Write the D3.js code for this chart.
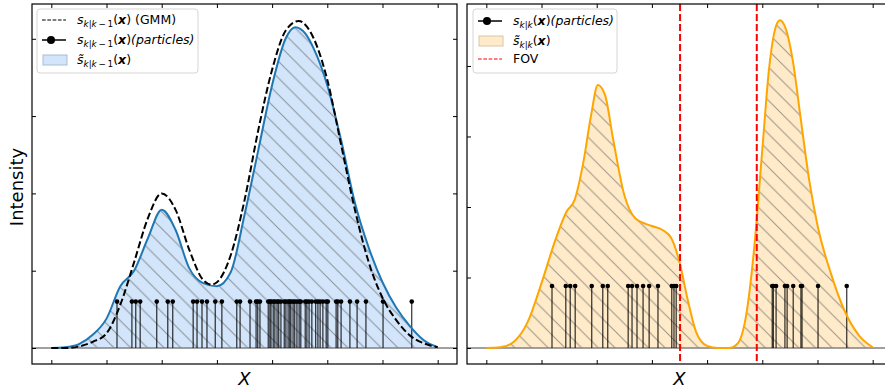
<!DOCTYPE html>
<html>
<head>
<meta charset="utf-8">
<script src="https://cdn.jsdelivr.net/npm/d3@7"></script>
<style>
  body { margin: 0; background: #fff; }
  svg { display: block; }
  text { font-family: "DejaVu Sans", sans-serif; }
</style>
</head>
<body>
<svg id="chart" width="885" height="390"></svg>
<script>
// ---- data (x in axis units, ticks 0..7) ----
const xTicks = [0, 1, 2, 3, 4, 5, 6, 7];
const yTicks = [0, 1, 2, 3, 4];

// predicted intensity, GMM (dashed)
const gmmX = [0, 0.25, 0.5, 0.75, 1.0, 1.25, 1.5, 1.75, 2.0, 2.25, 2.5, 2.75, 2.9, 3.0, 3.25, 3.5, 3.75, 4.0, 4.25, 4.48, 4.75, 5.0, 5.25, 5.5, 5.75, 6.0, 6.25, 6.5, 6.75, 7.0];
const gmmY = [0, 0.0, 0.02, 0.08, 0.19, 0.56, 1.11, 1.68, 2.0, 1.79, 1.27, 0.88, 0.82, 0.85, 1.20, 1.91, 2.82, 3.60, 4.11, 4.23, 4.01, 3.47, 2.63, 1.79, 1.11, 0.65, 0.36, 0.16, 0.06, 0.01];

// predicted intensity from particles (blue)
const priorX = [0, 0.25, 0.5, 0.75, 1.0, 1.25, 1.5, 1.75, 2.0, 2.25, 2.5, 2.75, 3.0, 3.25, 3.5, 3.75, 4.0, 4.25, 4.42, 4.6, 4.75, 5.0, 5.25, 5.5, 5.75, 6.0, 6.25, 6.5, 6.75, 7.0];
const priorY = [0, 0.01, 0.05, 0.17, 0.38, 0.80, 1.00, 1.42, 1.79, 1.53, 1.03, 0.84, 0.80, 0.98, 1.72, 2.56, 3.40, 4.01, 4.15, 4.07, 3.88, 3.40, 2.69, 1.88, 1.30, 0.85, 0.52, 0.28, 0.10, 0.01];

// updated intensity (orange)
const postX = [0, 0.25, 0.5, 0.75, 1.0, 1.25, 1.45, 1.6, 1.75, 1.9, 2.02, 2.15, 2.3, 2.5, 2.7, 3.0, 3.2, 3.35, 3.5, 3.65, 3.8, 4.0, 4.2, 4.4, 4.55, 4.7, 4.85, 5.0, 5.12, 5.25, 5.32, 5.42, 5.55, 5.7, 5.85, 6.0, 6.25, 6.5, 6.75, 7.0];
const postY = [0, 0.01, 0.09, 0.37, 0.92, 1.53, 1.93, 2.10, 2.60, 3.31, 3.73, 3.59, 2.95, 2.17, 1.84, 1.73, 1.67, 1.56, 1.22, 0.68, 0.23, 0.03, 0, 0, 0.06, 0.43, 1.39, 2.81, 3.94, 4.57, 4.65, 4.54, 4.09, 3.23, 2.38, 1.74, 1.04, 0.51, 0.18, 0.01];

// particle positions
const priorParticles = [1.19, 1.46, 1.53, 1.61, 1.91, 2.11, 2.20, 2.57, 2.64, 2.73, 2.82, 2.97, 3.09, 3.36, 3.42, 3.60, 3.71, 3.74, 3.78, 3.93, 3.96, 3.98, 4.02, 4.05, 4.09, 4.12, 4.16, 4.22, 4.25, 4.29, 4.32, 4.34, 4.38, 4.41, 4.45, 4.49, 4.52, 4.60, 4.63, 4.67, 4.72, 4.79, 4.83, 4.87, 4.92, 4.98, 5.01, 5.16, 5.19, 5.25, 5.41, 5.54, 5.70, 6.01, 6.53];
const postParticles = [1.19, 1.44, 1.52, 1.61, 1.91, 2.11, 2.20, 2.57, 2.64, 2.73, 2.84, 2.95, 3.11, 3.36, 3.40, 3.44, 5.18, 5.20, 5.25, 5.41, 5.45, 5.56, 5.70, 5.72, 6.01, 6.53];
const priorWeight = 0.6;
const postWeight = 0.88;

// field of view bounds
const fov = [3.51, 4.90];

// ---- layout ----
const svg = d3.select("#chart");
const axTop = 4, axBottom = 364;
const panels = [
  { x0: 32, x1: 457, yMax: 4.45, yMin: -0.207 },
  { x0: 467, x1: 892, yMax: 4.879, yMin: -0.227 }
];

const defs = svg.append("defs");
const hatch = defs.append("pattern")
  .attr("id", "hatch")
  .attr("patternUnits", "userSpaceOnUse")
  .attr("width", 16.7).attr("height", 16.7);
hatch.append("path")
  .attr("d", "M0,0L16.7,16.7M-4,12.7L4,20.7M12.7,-4L20.7,4")
  .attr("stroke", "#4a4a4a").attr("stroke-opacity", 0.55).attr("stroke-width", 1);

function makeScales(p) {
  const x = d3.scaleLinear().domain([-0.35, 7.35]).range([p.x0, p.x1]);
  const y = d3.scaleLinear().domain([p.yMin, p.yMax]).range([axBottom, axTop]);
  return { x, y };
}

function clipFor(p, id) {
  defs.append("clipPath").attr("id", id)
    .append("rect").attr("x", p.x0).attr("y", axTop)
    .attr("width", p.x1 - p.x0).attr("height", axBottom - axTop);
  return svg.append("g").attr("clip-path", `url(#${id})`);
}

function drawFill(g, s, xs, ys, color) {
  const pts = xs.map((d, i) => [d, ys[i]]);
  const area = d3.area().x(d => s.x(d[0])).y0(s.y(0)).y1(d => s.y(d[1])).curve(d3.curveMonotoneX);
  g.append("path").attr("d", area(pts)).attr("fill", color);
  g.append("path").attr("d", area(pts)).attr("fill", "url(#hatch)");
}

function drawCurve(g, s, xs, ys, color, width, dash) {
  const pts = xs.map((d, i) => [d, ys[i]]);
  const line = d3.line().x(d => s.x(d[0])).y(d => s.y(d[1])).curve(d3.curveMonotoneX);
  g.append("path").attr("d", line(pts))
    .attr("fill", "none").attr("stroke", color)
    .attr("stroke-width", width)
    .attr("stroke-dasharray", dash || null);
}

function drawBaseline(g, p, s) {
  g.append("line")
    .attr("x1", p.x0).attr("x2", p.x1)
    .attr("y1", s.y(0)).attr("y2", s.y(0))
    .attr("stroke", "#808080").attr("stroke-width", 1.3);
}

function drawStems(g, s, particles, w) {
  g.selectAll(null).data(particles).enter().append("line")
    .attr("x1", d => s.x(d)).attr("x2", d => s.x(d))
    .attr("y1", s.y(0)).attr("y2", s.y(w))
    .attr("stroke", "#000").attr("stroke-opacity", 0.82).attr("stroke-width", 1.2);
  g.selectAll(null).data(particles).enter().append("circle")
    .attr("cx", d => s.x(d)).attr("cy", s.y(w)).attr("r", 2.3)
    .attr("fill", "#000");
}

function drawAxes(p, s) {
  const tick = 4;
  const gb = svg.append("g").attr("transform", `translate(0,${axBottom})`)
    .call(d3.axisBottom(s.x).tickValues(xTicks).tickSize(-tick).tickSizeOuter(0).tickFormat(""));
  const gt = svg.append("g").attr("transform", `translate(0,${axTop})`)
    .call(d3.axisTop(s.x).tickValues(xTicks).tickSize(-tick).tickSizeOuter(0).tickFormat(""));
  const gl = svg.append("g").attr("transform", `translate(${p.x0},0)`)
    .call(d3.axisLeft(s.y).tickValues(yTicks).tickSize(-tick).tickSizeOuter(0).tickFormat(""));
  const gr = svg.append("g").attr("transform", `translate(${p.x1},0)`)
    .call(d3.axisRight(s.y).tickValues(yTicks).tickSize(-tick).tickSizeOuter(0).tickFormat(""));
  [gb, gt, gl, gr].forEach(g => {
    g.select(".domain").remove();
    g.selectAll(".tick line").attr("stroke", "#000").attr("stroke-width", 1);
  });
  svg.append("rect")
    .attr("x", p.x0).attr("y", axTop)
    .attr("width", p.x1 - p.x0).attr("height", axBottom - axTop)
    .attr("fill", "none").attr("stroke", "#000").attr("stroke-width", 1.2);
  svg.append("text")
    .attr("x", (p.x0 + p.x1) / 2).attr("y", 385)
    .attr("text-anchor", "middle").attr("font-size", 18)
    .attr("font-style", "italic").text("X");
}

// mathtext-like label: parts are [string, flags] with i=italic, b=bold, s=subscript
function drawMath(g, x, y, parts) {
  const t = g.append("text").attr("x", x).attr("y", y).attr("font-size", 12.5);
  let inSub = false;
  parts.forEach(([str, st]) => {
    const sub = st.includes("s");
    const ts = t.append("tspan").text(str)
      .attr("font-style", st.includes("i") ? "italic" : "normal")
      .attr("font-weight", st.includes("b") ? "bold" : "normal");
    if (sub !== inSub) { ts.attr("dy", sub ? 3 : -3); inSub = sub; }
    if (sub) ts.attr("font-size", 8.8);
  });
}

function subPrior() {
  return [["k", "is"], ["|", "s"], ["k", "is"], ["\u2009\u2212\u2009", "s"], ["1", "s"]];
}
function subPost() {
  return [["k", "is"], ["|", "s"], ["k", "is"]];
}

function legendBox(x, y, w, h) {
  svg.append("rect").attr("x", x).attr("y", y).attr("width", w).attr("height", h)
    .attr("rx", 3).attr("fill", "#fff").attr("fill-opacity", 0.8)
    .attr("stroke", "#d5d5d5").attr("stroke-width", 1);
}

function handleDash(x, y, color) {
  svg.append("line").attr("x1", x).attr("x2", x + 24).attr("y1", y).attr("y2", y)
    .attr("stroke", color).attr("stroke-width", 1.1).attr("stroke-dasharray", "3.7,1.6");
}
function handleStem(x, y) {
  svg.append("line").attr("x1", x).attr("x2", x + 24).attr("y1", y).attr("y2", y)
    .attr("stroke", "#000").attr("stroke-width", 1.5);
  svg.append("circle").attr("cx", x + 9).attr("cy", y).attr("r", 4).attr("fill", "#000");
}
function handlePatch(x, y, fill, edge) {
  svg.append("rect").attr("x", x).attr("y", y - 5).attr("width", 24).attr("height", 10)
    .attr("fill", fill).attr("stroke", edge).attr("stroke-width", 1);
}

// ---- left panel: prediction ----
const pL = panels[0], sL = makeScales(pL);
const gL = clipFor(pL, "clipL");
drawFill(gL, sL, priorX, priorY, "#d3e5fa");
drawBaseline(gL, pL, sL);
drawStems(gL, sL, priorParticles, priorWeight);
drawCurve(gL, sL, priorX, priorY, "#1f77b4", 2);
drawCurve(gL, sL, gmmX, gmmY, "#000", 2, "7,3");
drawAxes(pL, sL);

// ---- right panel: update ----
const pR = panels[1], sR = makeScales(pR);
const gR = clipFor(pR, "clipR");
drawFill(gR, sR, postX, postY, "#ffebc9");
drawBaseline(gR, pR, sR);
drawStems(gR, sR, postParticles, postWeight);
drawCurve(gR, sR, postX, postY, "#ffa500", 2);
fov.forEach(f => {
  gR.append("line")
    .attr("x1", sR.x(f)).attr("x2", sR.x(f))
    .attr("y1", axTop).attr("y2", axBottom)
    .attr("stroke", "#ff0000").attr("stroke-width", 2).attr("stroke-dasharray", "7,3");
});
drawAxes(pR, sR);

// y label
svg.append("text")
  .attr("transform", "translate(23,187) rotate(-90)")
  .attr("text-anchor", "middle").attr("font-size", 18)
  .text("Intensity");

// ---- legends ----
legendBox(37, 9, 161, 64);
handleDash(42, 20, "#000");
drawMath(svg, 77, 24, [["s", "i"], ...subPrior(), ["(", ""], ["x", "bi"], [")", ""], [" (GMM)", ""]]);
handleStem(42, 40);
drawMath(svg, 77, 44, [["s", "i"], ...subPrior(), ["(", ""], ["x", "bi"], [")", ""], ["(particles)", "i"]]);
handlePatch(43, 60, "#d3e5fa", "#a9bcd2");
drawMath(svg, 77, 64, [["s\u0303", "i"], ...subPrior(), ["(", ""], ["x", "bi"], [")", ""]]);

legendBox(473, 9, 144, 64);
handleStem(478, 21);
drawMath(svg, 513, 25, [["s", "i"], ...subPost(), ["(", ""], ["x", "bi"], [")", ""], ["(particles)", "i"]]);
handlePatch(479, 41, "#ffebc9", "#d8c6a6");
drawMath(svg, 513, 45, [["s\u0303", "i"], ...subPost(), ["(", ""], ["x", "bi"], [")", ""]]);
handleDash(478, 59, "#ff0000");
svg.append("text").attr("x", 513).attr("y", 63).attr("font-size", 12.5).text("FOV");
</script>
</body>
</html>
